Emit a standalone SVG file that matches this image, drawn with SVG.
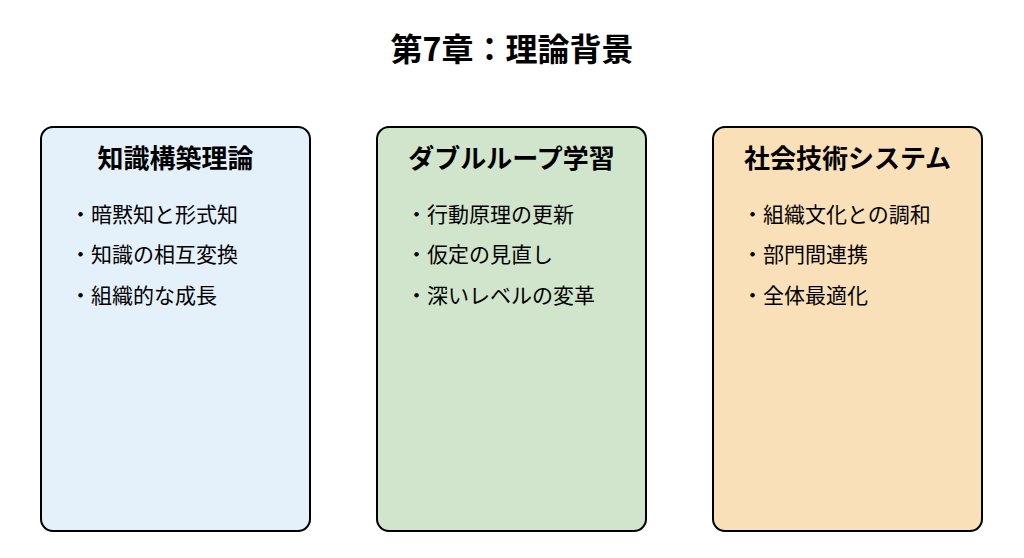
<svg xmlns="http://www.w3.org/2000/svg" width="1024" height="558" viewBox="0 0 1024 558">
<style>
text{font-family:"Noto Sans CJK JP","Noto Sans",sans-serif;fill:#000}
.t{font-size:32px;font-weight:bold;text-anchor:middle}
.h{font-size:26px;font-weight:bold;text-anchor:middle}
.b{font-size:21px}
rect{stroke:#000;stroke-width:2}
</style>
<rect width="1024" height="558" fill="#fff" style="stroke:none"/>
<text class="t" x="512" y="61">第7章：理論背景</text>
<g id="n1"><rect x="41" y="127" width="269" height="404" rx="12" fill="#E4F1FB"/>
<text class="h" x="175.5" y="168">知識構築理論</text>
<text class="b" x="70" y="222">・暗黙知と形式知</text>
<text class="b" x="70" y="262">・知識の相互変換</text>
<text class="b" x="70" y="303">・組織的な成長</text></g>
<g id="n2"><rect x="377" y="127" width="269" height="404" rx="12" fill="#D0E5CB"/>
<text class="h" x="511.5" y="168">ダブルループ学習</text>
<text class="b" x="406" y="222">・行動原理の更新</text>
<text class="b" x="406" y="262">・仮定の見直し</text>
<text class="b" x="406" y="303">・深いレベルの変革</text></g>
<g id="n3"><rect x="713" y="127" width="269" height="404" rx="12" fill="#FAE0B8"/>
<text class="h" x="847.5" y="168">社会技術システム</text>
<text class="b" x="742" y="222">・組織文化との調和</text>
<text class="b" x="742" y="262">・部門間連携</text>
<text class="b" x="742" y="303">・全体最適化</text></g>
<g id="connectors"/>
</svg>
